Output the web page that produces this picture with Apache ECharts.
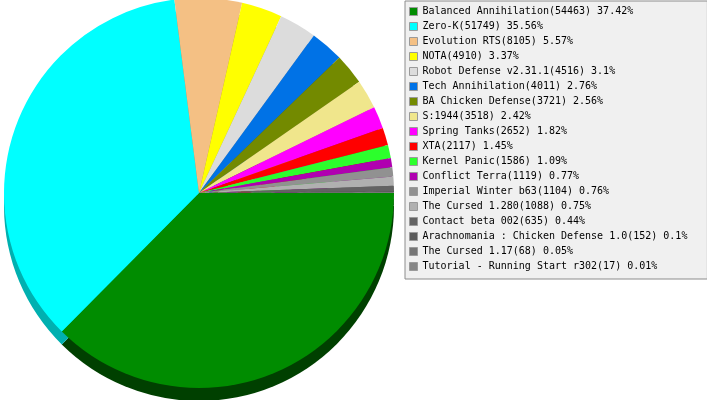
<!DOCTYPE html>
<html>
<head>
<meta charset="utf-8">
<script src="https://cdn.jsdelivr.net/npm/echarts@6/dist/echarts.min.js"></script>
<style>
html,body{margin:0;padding:0;background:#fff;}
#c{width:707px;height:400px;}
</style>
</head>
<body>
<div id="c"></div>
<script>
var names = [
  "Balanced Annihilation", "Zero-K", "Evolution RTS", "NOTA", "Robot Defense v2.31.1",
  "Tech Annihilation", "BA Chicken Defense", "S:1944", "Spring Tanks", "XTA",
  "Kernel Panic", "Conflict Terra", "Imperial Winter b63", "The Cursed 1.280",
  "Contact beta 002", "Arachnomania : Chicken Defense 1.0", "The Cursed 1.17",
  "Tutorial - Running Start r302"
];
var values = [54463, 51749, 8105, 4910, 4516, 4011, 3721, 3518, 2652, 2117, 1586, 1119, 1104, 1088, 635, 152, 68, 17];
var colors = [
  "#008c00", "#00ffff", "#f4c084", "#ffff00", "#dcdcdc",
  "#0072e6", "#738a00", "#f0e68c", "#ff00ff", "#ff0000",
  "#2cff2c", "#b000b0", "#919191", "#b0b0b0", "#636363",
  "#5a5a5a", "#767676", "#858585"
];
var sideColors = [
  "#004000", "#00b0b0", "#a8845a", "#b0b000", "#989898",
  "#004f9e", "#4f5f00", "#a59f60", "#b000b0", "#b00000",
  "#1eb01e", "#790079", "#646464", "#797979", "#444444",
  "#3e3e3e", "#515151", "#5c5c5c"
];

var total = values.reduce(function (a, b) { return a + b; }, 0);
function pct(v) { return String(Math.round(v / total * 10000) / 100); }

var topData = names.map(function (n, i) {
  return { name: n, value: values[i], itemStyle: { color: colors[i] } };
});
var sideData = names.map(function (n, i) {
  return { name: "_side" + i, value: values[i], itemStyle: { color: sideColors[i] } };
});

var chart = echarts.init(document.getElementById('c'), null, { renderer: 'canvas' });
chart.setOption({
  animation: false,
  backgroundColor: '#ffffff',
  legend: {
    orient: 'vertical',
    left: 405,
    top: 1,
    padding: [3, 20, 5, 4],
    itemGap: 0,
    itemWidth: 8,
    itemHeight: 8,
    icon: 'rect',
    backgroundColor: '#f0f0f0',
    borderColor: '#8c8c8c',
    borderWidth: 1,
    borderRadius: 0,
    selectedMode: false,
    itemStyle: { borderColor: '#9a9a9a', borderWidth: 1 },
    textStyle: {
      fontFamily: 'DejaVu Sans Mono',
      fontSize: 10,
      lineHeight: 15,
      color: '#000000'
    },
    data: names.map(function (n, i) { return { name: n, itemStyle: { color: colors[i] } }; }),
    formatter: function (name) {
      var i = names.indexOf(name);
      return name + '(' + values[i] + ') ' + pct(values[i]) + '%';
    }
  },
  series: [
    {
      type: 'pie',
      z: 1,
      silent: true,
      center: [199, 206],
      radius: 195,
      startAngle: 0,
      clockwise: true,
      minAngle: 0,
      avoidLabelOverlap: false,
      label: { show: false },
      labelLine: { show: false },
      emphasis: { disabled: true },
      itemStyle: { borderWidth: 0 },
      data: sideData
    },
    {
      type: 'pie',
      z: 2,
      silent: true,
      center: [199, 193],
      radius: 195,
      startAngle: 0,
      clockwise: true,
      minAngle: 0,
      avoidLabelOverlap: false,
      label: { show: false },
      labelLine: { show: false },
      emphasis: { disabled: true },
      itemStyle: { borderWidth: 0 },
      data: topData
    }
  ]
});
</script>
</body>
</html>
